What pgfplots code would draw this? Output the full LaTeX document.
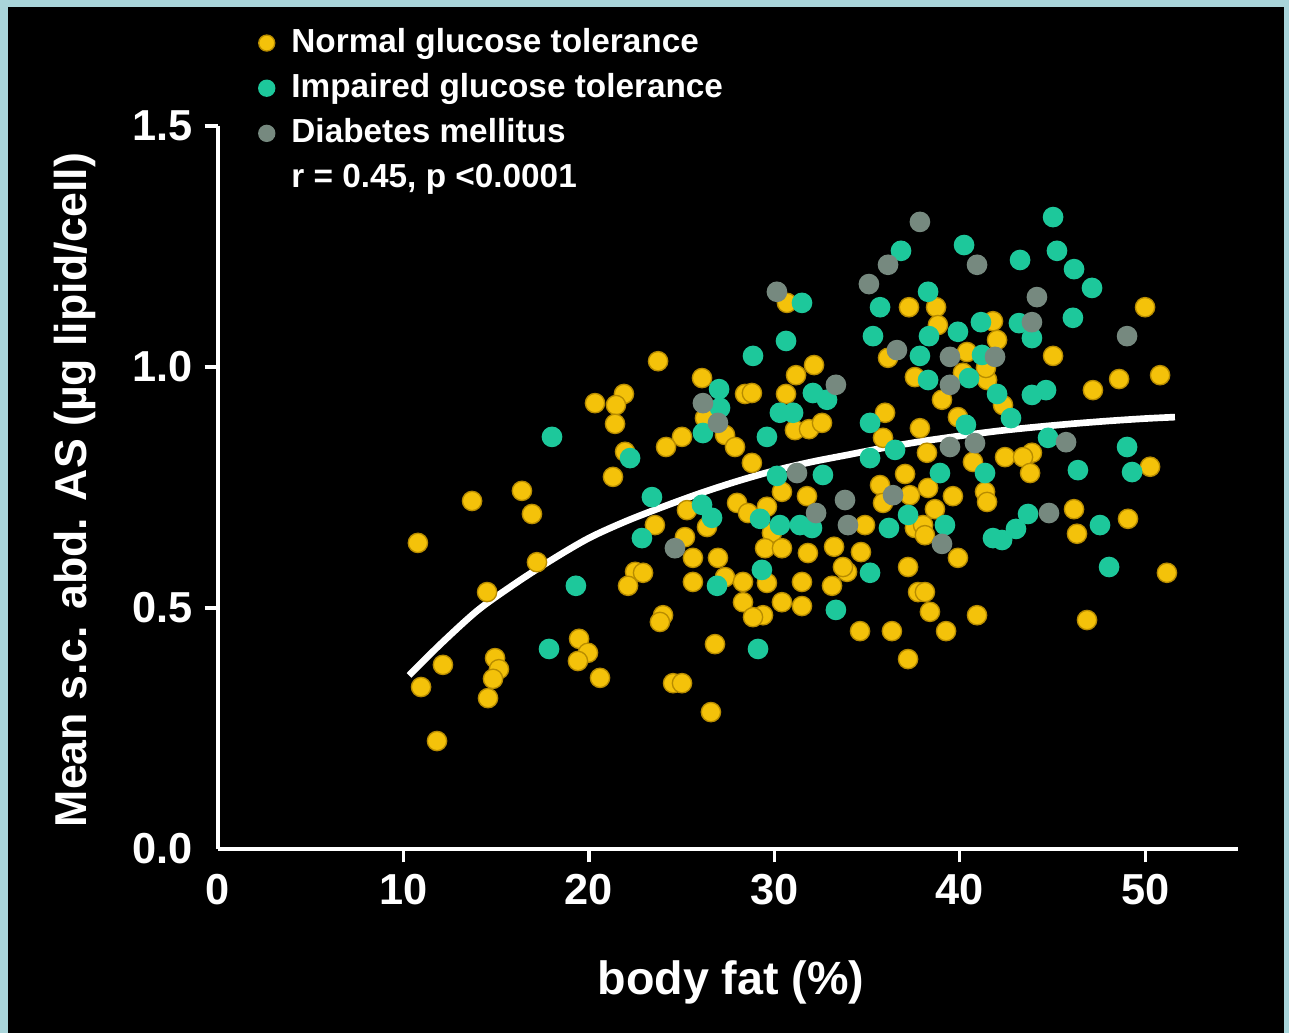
\documentclass[border=0pt]{standalone}
\usepackage{fontspec}
\setmainfont{Liberation Sans}
\usepackage{pgfplots}
\pgfplotsset{compat=1.18}
\definecolor{bordercol}{HTML}{A9D5DA}
\definecolor{ngt}{HTML}{F4C20A}
\definecolor{ngtedge}{HTML}{B88C00}
\definecolor{igt}{HTML}{1DC89B}
\definecolor{dm}{HTML}{76897F}
\pgfplotstableread{
x y
20.33 0.925
21.89 0.944
21.46 0.921
21.41 0.882
21.95 0.824
21.30 0.772
23.73 1.012
13.70 0.722
16.39 0.743
16.93 0.695
10.78 0.635
17.20 0.595
14.51 0.533
22.49 0.575
22.11 0.546
22.92 0.573
12.13 0.382
10.95 0.336
14.94 0.396
15.15 0.373
14.83 0.353
14.56 0.313
11.81 0.224
19.47 0.436
19.95 0.407
19.41 0.390
20.60 0.355
30.68 1.133
26.10 0.977
26.26 0.894
27.34 0.859
27.88 0.834
25.02 0.855
24.16 0.834
28.42 0.944
28.79 0.946
31.17 0.983
32.14 1.004
30.63 0.944
31.11 0.869
31.87 0.871
32.57 0.884
35.97 0.905
37.26 1.124
36.13 1.019
28.79 0.801
37.05 0.778
35.86 0.853
37.58 0.979
37.85 0.873
49.99 1.124
38.72 1.124
38.82 1.087
41.79 1.095
42.01 1.056
45.03 1.023
40.39 1.031
40.17 0.988
41.47 0.973
41.41 0.998
42.33 0.921
39.04 0.932
39.90 0.896
47.18 0.952
48.59 0.975
50.80 0.983
50.26 0.793
42.44 0.813
43.89 0.822
43.41 0.813
43.79 0.780
38.23 0.822
40.71 0.803
23.56 0.672
25.29 0.703
26.37 0.668
25.18 0.647
25.61 0.604
26.96 0.604
25.61 0.554
27.34 0.564
28.31 0.554
28.31 0.512
24.00 0.485
23.83 0.471
26.80 0.425
24.54 0.344
25.02 0.344
26.58 0.284
27.99 0.718
28.58 0.697
29.60 0.710
29.87 0.656
29.50 0.624
30.41 0.624
29.60 0.552
30.41 0.512
29.39 0.485
28.85 0.481
31.49 0.554
31.49 0.504
31.81 0.614
30.41 0.741
31.76 0.732
34.89 0.672
33.22 0.627
34.67 0.616
33.92 0.575
33.70 0.585
33.11 0.546
34.62 0.452
36.34 0.452
37.21 0.394
37.21 0.585
37.75 0.533
35.70 0.755
35.86 0.718
37.58 0.666
37.31 0.734
38.29 0.749
39.63 0.732
38.66 0.705
41.36 0.741
41.47 0.720
38.02 0.672
38.12 0.651
39.90 0.604
46.16 0.705
46.32 0.654
49.07 0.685
51.17 0.573
38.12 0.533
38.39 0.492
39.26 0.452
40.93 0.485
46.86 0.475
}\ngtdata
\pgfplotstableread{
x y
18.01 0.855
22.22 0.811
19.30 0.546
22.86 0.645
23.40 0.730
17.85 0.415
31.49 1.133
30.63 1.054
28.85 1.023
27.02 0.954
27.07 0.915
26.15 0.863
32.08 0.946
32.84 0.932
30.30 0.905
31.01 0.905
29.60 0.855
35.16 0.884
35.32 1.064
35.70 1.124
36.83 1.241
32.62 0.776
30.14 0.774
35.16 0.811
36.51 0.828
37.85 1.023
45.03 1.311
40.23 1.253
43.25 1.222
45.24 1.241
46.16 1.203
47.13 1.164
38.29 1.156
38.34 1.064
39.90 1.073
41.14 1.093
43.19 1.091
43.89 1.060
46.10 1.102
41.20 1.025
38.29 0.973
40.50 0.977
42.01 0.944
40.33 0.880
42.76 0.894
43.89 0.942
44.65 0.952
44.76 0.853
49.02 0.834
49.29 0.782
46.37 0.786
38.93 0.780
41.36 0.780
26.10 0.714
26.64 0.687
26.91 0.546
29.12 0.415
29.23 0.685
30.30 0.672
29.33 0.579
31.38 0.672
32.03 0.666
35.16 0.573
33.32 0.496
36.18 0.666
37.21 0.693
39.20 0.672
41.79 0.645
42.28 0.641
43.03 0.664
43.68 0.695
47.56 0.672
48.05 0.585
}\igtdata
\pgfplotstableread{
x y
30.14 1.156
26.15 0.925
26.96 0.884
33.32 0.963
35.10 1.172
36.13 1.212
37.85 1.301
36.61 1.035
31.22 0.780
40.93 1.212
44.16 1.145
43.89 1.093
49.02 1.064
39.47 1.021
41.90 1.021
39.47 0.963
45.73 0.844
39.47 0.834
40.82 0.842
24.64 0.624
32.25 0.697
33.81 0.724
33.97 0.672
36.40 0.734
39.04 0.633
44.81 0.697
}\dmdata
\begin{document}
\begin{tikzpicture}
\fill[bordercol] (0,0) rectangle (386.7pt,309.9pt);
\fill[black] (2.4pt,0pt) rectangle (385.2pt,307.8pt);
\begin{axis}[
  at={(65.4pt,55.2pt)}, anchor=south west,
  scale only axis, width=306pt, height=216.9pt,
  xmin=0, xmax=55, ymin=0, ymax=1.5,
  axis lines=left,
  axis line style={white, line width=1.2pt, -},
  xtick={10,20,30,40,50},
  extra x ticks={0}, extra x tick style={major tick style={draw=none}},
  ytick={0.5,1.0,1.5},
  extra y ticks={0}, extra y tick style={major tick style={draw=none}},
  tick align=outside, major tick length=4pt,
  major tick style={white, line width=1pt},
  /pgf/number format/assume math mode=true,
  xticklabel style={font=\bfseries\fontsize{13}{13}\selectfont, text=white},
  yticklabel style={font=\bfseries\fontsize{13}{13}\selectfont, text=white,
    /pgf/number format/fixed, /pgf/number format/fixed zerofill, /pgf/number format/precision=1},
  xlabel={body fat (\%)},
  ylabel={Mean s.c. abd. AS (µg lipid/cell)},
  xlabel style={font=\bfseries\fontsize{14}{14}\selectfont, text=white, at={(axis description cs:0.503,-0.185)}, anchor=center},
  ylabel style={font=\bfseries\fontsize{13.4}{13.4}\selectfont, text=white, at={(axis description cs:-0.140,0.4965)}, anchor=center, rotate=0},
  legend style={at={(axis description cs:0.036,1.145)}, anchor=north west, draw=none, fill=none,
    text=white, font=\bfseries\fontsize{10}{10}\selectfont, row sep=0.8pt, inner sep=0pt,
    /tikz/every odd column/.append style={column sep=3pt}},
  legend cell align=left,
  legend image code/.code={\draw[#1, mark size=2.4pt] plot coordinates {(0.12cm,0cm)};},
  clip=false,
]
\addplot[only marks, mark=*, mark size=2.9pt, mark options={draw=ngtedge, fill=ngt, line width=0.4pt}] table {\ngtdata};
\addlegendentry{Normal glucose tolerance}
\addplot[only marks, mark=*, mark size=2.9pt, mark options={draw=igt, fill=igt, line width=0.4pt}] table {\igtdata};
\addlegendentry{Impaired glucose tolerance}
\addplot[only marks, mark=*, mark size=2.9pt, mark options={draw=dm, fill=dm, line width=0.4pt}] table {\dmdata};
\addlegendentry{Diabetes mellitus}
\addlegendimage{empty legend}
\addlegendentry{r = 0.45, p <0.0001}
\addplot[white, line width=2pt, smooth, forget plot] coordinates {
(10.3,0.36) (12,0.425) (14,0.495) (16,0.55) (18,0.60) (20,0.645) (22,0.68) (24,0.71) (26,0.738) (28,0.763) (30,0.785) (32,0.803) (34,0.818) (36,0.833) (38,0.846) (40,0.857) (42,0.867) (44,0.875) (46,0.882) (48,0.888) (50,0.893) (51.6,0.896)};
\end{axis}
\pgfresetboundingbox
\useasboundingbox (0,0) rectangle (386.7pt,309.9pt);
\end{tikzpicture}
\end{document}
